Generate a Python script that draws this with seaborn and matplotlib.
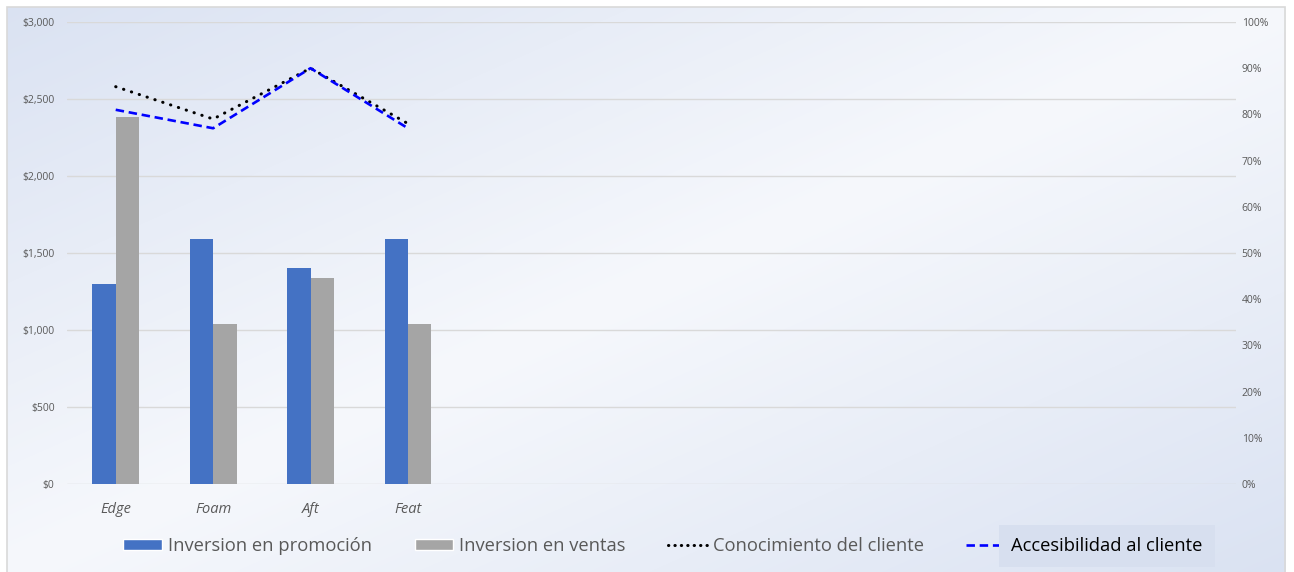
import numpy as np
import pandas as pd
import matplotlib.pyplot as plt
import seaborn as sns
from matplotlib.lines import Line2D
from matplotlib.patches import Patch, Rectangle
from matplotlib.colors import LinearSegmentedColormap
from matplotlib.ticker import MultipleLocator, FuncFormatter, PercentFormatter

# ----------------------------------------------------------
# DATOS
# ----------------------------------------------------------

categorias = ["Edge", "Foam", "Aft", "Feat"]

inversion_promocion = [1300, 1590, 1400, 1590]
inversion_ventas = [2380, 1040, 1340, 1040]

conocimiento_cliente = [0.86, 0.79, 0.90, 0.78]
accesibilidad_cliente = [0.81, 0.77, 0.90, 0.77]

series_barras = ["Inversion en promoción", "Inversion en ventas"]
series_lineas = ["Conocimiento del cliente", "Accesibilidad al cliente"]

# el libro de Excel reserva 12 categorías, solo 4 tienen datos
n_categorias = 12

# ----------------------------------------------------------
# ESTILO
# ----------------------------------------------------------

sns.set_theme(style="white")
plt.rcParams["font.family"] = ["Open Sans", "DejaVu Sans"]

gris_texto = "#595959"
azul = "#4472C4"
gris = "#A5A5A5"

W, H = 1294, 572
fig = plt.figure(figsize=(W / 100, H / 100), dpi=100)

# ----------------------------------------------------------
# FONDO DEGRADADO (diagonal azul - blanco - azul)
# ----------------------------------------------------------

x0, y0, x1 = 7, 7, 1285
bg = fig.add_axes([x0 / W, 0, (x1 - x0) / W, 1 - y0 / H], zorder=-10)
yy, xx = np.mgrid[y0:H, x0:x1]
t = (xx / W + yy / H) / 2
cmap_bg = LinearSegmentedColormap.from_list(
    "fondo", ["#dae2f2", "#f6f8fc", "#dae2f2"]
)
bg.imshow(t, cmap=cmap_bg, aspect="auto", vmin=0, vmax=1, interpolation="bilinear")
bg.set_axis_off()
fig.patches.append(Rectangle(
    (x0 / W, -0.01), (x1 - x0) / W, 1 - y0 / H + 0.01,
    transform=fig.transFigure, fill=False, edgecolor="#d9d9d9", linewidth=1.2
))

# ----------------------------------------------------------
# BARRAS
# ----------------------------------------------------------

df = pd.DataFrame({
    "categoria": categorias * 2,
    "serie": [series_barras[0]] * len(categorias) + [series_barras[1]] * len(categorias),
    "valor": inversion_promocion + inversion_ventas,
})

ax = fig.add_axes([67 / W, 1 - 484 / H, 1169 / W, 462 / H])
ax.set_facecolor("none")

sns.barplot(
    data=df,
    x="categoria",
    y="valor",
    hue="serie",
    palette=[azul, gris],
    saturation=1,
    width=0.48,
    linewidth=0,
    edgecolor="none",
    legend=False,
    ax=ax,
)

ax.set_xlim(-0.5, n_categorias - 0.5)
ax.set_ylim(0, 3000)
ax.yaxis.set_major_locator(MultipleLocator(500))
ax.yaxis.set_major_formatter(FuncFormatter(lambda v, p: f"${v:,.0f}"))
ax.grid(axis="y", color="#d9d9d9", linewidth=1)
ax.set_axisbelow(True)
for s in ax.spines.values():
    s.set_visible(False)

ax.set_xlabel("")
ax.set_ylabel("")
ax.tick_params(axis="y", length=0, labelsize=7.5, labelcolor=gris_texto, pad=9)
ax.tick_params(axis="x", length=0, labelsize=10.5, labelcolor=gris_texto, pad=13)
for lab in ax.get_xticklabels():
    lab.set_fontstyle("italic")

# ----------------------------------------------------------
# LÍNEAS (EJE SECUNDARIO)
# ----------------------------------------------------------

ax2 = ax.twinx()
pos = np.arange(len(categorias))

sns.lineplot(
    x=pos, y=conocimiento_cliente, ax=ax2,
    color="black", linewidth=2.2,
    linestyle=(0, (0.1, 2.6)), dash_capstyle="round",
)
sns.lineplot(
    x=pos, y=accesibilidad_cliente, ax=ax2,
    color="#0000FF", linewidth=1.9,
    linestyle=(0, (3.2, 1.8)),
)

ax2.set_ylim(0, 1)
ax2.yaxis.set_major_locator(MultipleLocator(0.1))
ax2.yaxis.set_major_formatter(PercentFormatter(1, decimals=0))
ax2.grid(False)
for s in ax2.spines.values():
    s.set_visible(False)
ax2.set_ylabel("")
ax2.tick_params(axis="y", length=0, labelsize=7.5, labelcolor=gris_texto, pad=4)

# ----------------------------------------------------------
# LEYENDA
# ----------------------------------------------------------

handles = [
    Patch(facecolor=azul, label=series_barras[0]),
    Patch(facecolor=gris, label=series_barras[1]),
    Line2D([], [], color="black", linewidth=2.2,
           linestyle=(0, (0.1, 2.0)), dash_capstyle="round", label=series_lineas[0]),
    Line2D([], [], color="#0000FF", linewidth=1.9,
           linestyle=(0, (3.2, 1.8)), label=series_lineas[1]),
]

leg = fig.legend(
    handles=handles,
    loc="center",
    bbox_to_anchor=(663 / W, 1 - 546 / H),
    ncol=4,
    frameon=False,
    fontsize=13.2,
    labelcolor=gris_texto,
    handlelength=2.1,
    handleheight=0.6,
    handletextpad=0.35,
    columnspacing=2.3,
)

ultimo = leg.get_texts()[3]
ultimo.set_color("black")
ultimo.set_bbox(dict(facecolor="#d7dfef", edgecolor="none", pad=9))

fig.savefig("out.png", dpi=100)
